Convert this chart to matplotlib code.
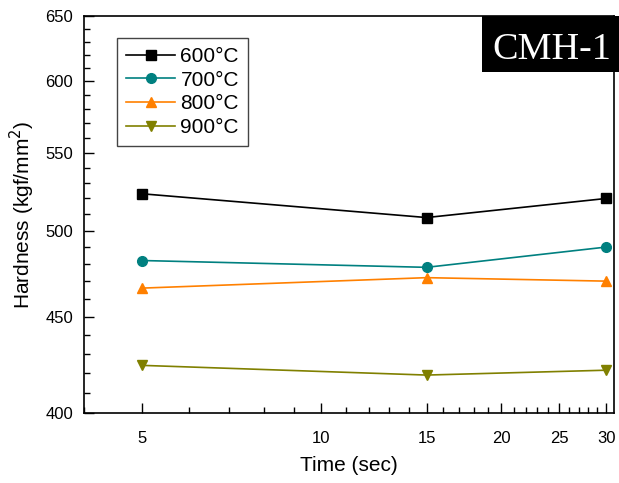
import numpy as np
import matplotlib.pyplot as plt
from matplotlib.ticker import FixedLocator, NullFormatter
from matplotlib.patches import Rectangle

plt.rcParams['font.family'] = ['Liberation Sans', 'DejaVu Sans']

# data
time_sec = [5, 15, 30]
h_600 = [523, 508, 520]
h_700 = [482, 478, 490]
h_800 = [466, 472, 470]
h_900 = [424, 419, 421.5]

series = [
    ('600°C', h_600, 'black', 's'),
    ('700°C', h_700, '#008080', 'o'),
    ('800°C', h_800, '#FF8000', '^'),
    ('900°C', h_900, '#808000', 'v'),
]

x_major = [5, 10, 15, 20, 25, 30]
y_major = [400, 450, 500, 550, 600, 650]

fig = plt.figure(figsize=(6.19, 4.83), dpi=100)
ax = fig.add_axes([0.1357, 0.1449, 0.856, 0.822])

for label, vals, col, mk in series:
    ax.plot(time_sec, vals, color=col, marker=mk, markersize=7, lw=1.2, label=label)

ax.set_xscale('log')
ax.set_yscale('log')
ax.set_xlim(4.0, 30.9)
ax.set_ylim(400, 650)

ax.xaxis.set_major_locator(FixedLocator(x_major))
ax.xaxis.set_minor_locator(FixedLocator([v for v in range(4, 31) if v not in x_major]))
ax.set_xticklabels([str(v) for v in x_major])
ax.xaxis.set_minor_formatter(NullFormatter())

ax.yaxis.set_major_locator(FixedLocator(y_major))
ax.yaxis.set_minor_locator(FixedLocator([v for v in range(400, 651, 10) if v not in y_major]))
ax.set_yticklabels([str(v) for v in y_major])
ax.yaxis.set_minor_formatter(NullFormatter())

ax.tick_params(which='major', direction='in', length=7, width=1, labelsize=12, pad=8)
ax.tick_params(which='minor', direction='in', length=4.5, width=1)
ax.tick_params(axis='x', which='major', pad=13)
for s in ax.spines.values():
    s.set_linewidth(1.2)

ax.set_xlabel('Time (sec)', fontsize=15, labelpad=7)
ax.set_ylabel('Hardness (kgf/mm$^2$)', fontsize=15, labelpad=6)

leg = ax.legend(loc='upper left', bbox_to_anchor=(0.062, 0.945), fontsize=15,
                fancybox=False, edgecolor='#444444', framealpha=1,
                handlelength=2.35, labelspacing=0.22, borderpad=0.45,
                handletextpad=0.25, borderaxespad=0)
leg.get_frame().set_linewidth(1.0)

# black label box in the top right corner
fig.patches.append(Rectangle((482 / 619, 1 - 72 / 483), 137 / 619, 56 / 483,
                             transform=fig.transFigure, facecolor='black',
                             edgecolor='none', zorder=5))
fig.text(551.5 / 619, 1 - 59 / 483, 'CMH-1', ha='center', va='baseline',
         fontsize=27.5, family='Liberation Serif', color='white', zorder=6)

fig.savefig('out.png', dpi=100)
